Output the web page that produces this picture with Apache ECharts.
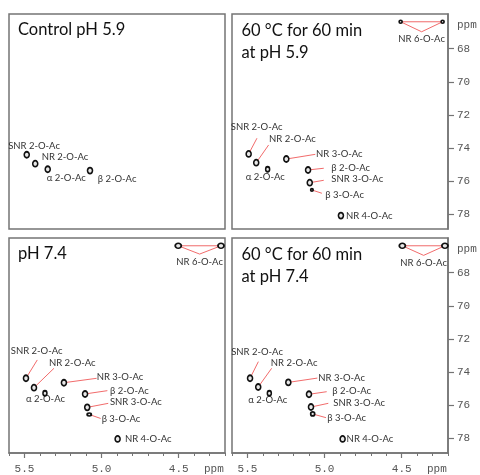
<!DOCTYPE html>
<html><head><meta charset="utf-8">
<script src="https://cdn.jsdelivr.net/npm/echarts@6/dist/echarts.min.js"></script>
<style>html,body{margin:0;padding:0;background:#fff}#c{width:480px;height:475px}</style>
</head><body><div id="c"></div>
<script>
// ---------- data (1H ppm, 13C ppm) ----------
const ctrlNames = ['SNR 2-O-Ac', 'NR 2-O-Ac', 'α 2-O-Ac', 'β 2-O-Ac'];
const ctrl59H = [5.485, 5.430, 5.349, 5.075];
const ctrl59C = [74.41, 74.95, 75.29, 75.37];

const peakNames = ['NR 6-O-Ac', 'NR 6-O-Ac', 'SNR 2-O-Ac', 'NR 2-O-Ac', 'α 2-O-Ac',
                   'NR 3-O-Ac', 'β 2-O-Ac', 'SNR 3-O-Ac', 'β 3-O-Ac', 'NR 4-O-Ac'];
const heat59H = [4.507, 4.235, 5.492, 5.443, 5.369, 5.248, 5.107, 5.096, 5.082, 4.894];
const heat59C = [66.37, 66.37, 74.36, 74.89, 75.29, 74.67, 75.33, 76.10, 76.54, 78.09];

const ph74H = [4.503, 4.226, 5.490, 5.438, 5.367, 5.244, 5.107, 5.093, 5.080, 4.896];
const ph74C = [66.37, 66.37, 74.38, 74.95, 75.29, 74.65, 75.33, 76.14, 76.57, 78.05];

const heat74H = [4.496, 4.220, 5.483, 5.430, 5.358, 5.235, 5.101, 5.088, 5.077, 4.883];
const heat74C = [66.37, 66.37, 74.38, 74.91, 75.29, 74.63, 75.35, 76.12, 76.54, 78.05];

const xTicks = [5.5, 5.0, 4.5];
const yTicks = [68, 70, 72, 74, 76, 78];
const panelTitles = ['Control pH 5.9', '60 °C for 60 min\nat pH 5.9', 'pH 7.4', '60 °C for 60 min\nat pH 7.4'];

// ---------- layout / style (pixel offsets of labels from their peaks) ----------
const layCtrl = {
  'SNR 2-O-Ac': {t: [7.3, -9], a: 'center'},
  'NR 2-O-Ac': {t: [6.4, -7], a: 'left'},
  'α 2-O-Ac': {t: [-1, 9], a: 'left'},
  'β 2-O-Ac': {t: [7.7, 8], a: 'left'}
};
const layHeat59 = {
  'NR 6-O-Ac': {v: 10, tv: 17.5},
  'SNR 2-O-Ac': {t: [8, -26.7], a: 'center', l: [8.3, -15.7]},
  'NR 2-O-Ac': {t: [36.2, -23.4], a: 'center', l: [12.4, -17.7]},
  'α 2-O-Ac': {t: [-2.4, 7.4], a: 'center'},
  'NR 3-O-Ac': {t: [29.7, -5], a: 'left', l: [29, -4.7]},
  'β 2-O-Ac': {t: [23.3, -2.3], a: 'left', l: [15.7, -1.7]},
  'SNR 3-O-Ac': {t: [21.6, -3.4], a: 'left', l: [14, -2.4]},
  'β 3-O-Ac': {t: [13.3, 5], a: 'left', l: [10, 3.3]},
  'NR 4-O-Ac': {t: [5, 0], a: 'left'}
};
const layPh74 = {
  'NR 6-O-Ac': {v: 8.3, tv: 16},
  'SNR 2-O-Ac': {t: [10.7, -27.3], a: 'center', l: [11.3, -18.3]},
  'NR 2-O-Ac': {t: [38.3, -24.4], a: 'center', l: [20, -19.4]},
  'α 2-O-Ac': {t: [0.5, 6], a: 'center'},
  'NR 3-O-Ac': {t: [32.7, -6], a: 'left', l: [32.7, -4.4]},
  'β 2-O-Ac': {t: [25, -3], a: 'left', l: [22.3, -3.3]},
  'SNR 3-O-Ac': {t: [22.7, -5], a: 'left', l: [21, -4]},
  'β 3-O-Ac': {t: [12.4, 4], a: 'left', l: [11.4, 4]},
  'NR 4-O-Ac': {t: [7.3, 0], a: 'left'}
};
const layHeat74 = {
  'NR 6-O-Ac': {v: 9.6, tv: 17},
  'SNR 2-O-Ac': {t: [7, -26.6], a: 'center', l: [8.3, -16.6]},
  'NR 2-O-Ac': {t: [35.9, -23.7], a: 'center', l: [13.4, -18.7]},
  'α 2-O-Ac': {t: [-1.5, 6.4], a: 'center'},
  'NR 3-O-Ac': {t: [30, -4], a: 'left', l: [29, -4.3]},
  'β 2-O-Ac': {t: [23.3, -3.3], a: 'left', l: [17.7, -2.6]},
  'SNR 3-O-Ac': {t: [22.3, -4.3], a: 'left', l: [17.3, -3.7]},
  'β 3-O-Ac': {t: [14.6, 4.3], a: 'left', l: [13.3, 3.7]},
  'NR 4-O-Ac': {t: [4, 0], a: 'left'}
};
const symCtrl = {};
const symHeat59 = {'NR 6-O-Ac': [3, 3], 'β 3-O-Ac': [2.5, 2.5], 'α 2-O-Ac': [4, 5]};
const symPh74 = {'NR 6-O-Ac': [6, 5], 'β 3-O-Ac': [4, 3], 'α 2-O-Ac': [4, 5]};
const symHeat74 = {'NR 6-O-Ac': [6, 5], 'β 3-O-Ac': [4, 4], 'α 2-O-Ac': [4, 5]};

const panels = [
  {title: panelTitles[0], names: ctrlNames, h: ctrl59H, c: ctrl59C, lay: layCtrl, sym: symCtrl, left: 9, top: 14, xs: false, ys: false, tx: 18, ty: 18.5},
  {title: panelTitles[1], names: peakNames, h: heat59H, c: heat59C, lay: layHeat59, sym: symHeat59, left: 232, top: 14, xs: false, ys: true, tx: 241.5, ty: 19},
  {title: panelTitles[2], names: peakNames, h: ph74H, c: ph74C, lay: layPh74, sym: symPh74, left: 9, top: 238, xs: true, ys: false, tx: 18, ty: 242.5},
  {title: panelTitles[3], names: peakNames, h: heat74H, c: heat74C, lay: layHeat74, sym: symHeat74, left: 232, top: 238, xs: true, ys: true, tx: 241.5, ty: 243}
];

const GREY = '#747474';
const RED = '#ef5a5a';
const LABEL_FONT = '9.5px Lato, "Liberation Sans", sans-serif';
const MONO = '"Liberation Mono", "DejaVu Sans Mono", monospace';

const grid = [], xAxis = [], yAxis = [], series = [], graphic = [];
panels.forEach((p, gi) => {
  grid.push({left: p.left, top: p.top, width: 216, height: 215, show: true,
    borderColor: GREY, borderWidth: 1.5, backgroundColor: 'transparent', containLabel: false, outerBoundsMode: 'none'});
  xAxis.push({gridIndex: gi, type: 'value', min: 4.2, max: 5.6, inverse: true, position: 'bottom', show: p.xs,
    axisLine: {show: true, lineStyle: {color: GREY, width: 1.5}},
    axisTick: {show: true, customValues: xTicks, length: 5, lineStyle: {color: GREY, width: 1.2}},
    axisLabel: {show: true, customValues: xTicks, formatter: v => v.toFixed(1), fontFamily: MONO, fontSize: 11, color: '#555', margin: 11},
    splitLine: {show: false}});
  xAxis.push({gridIndex: gi, type: 'value', min: 4.2, max: 5.6, interval: 0.1, inverse: true, position: 'bottom', show: p.xs,
    axisLine: {show: false},
    axisTick: {show: true, length: 3, lineStyle: {color: GREY, width: 1}},
    axisLabel: {show: false}, splitLine: {show: false}});
  yAxis.push({gridIndex: gi, type: 'value', min: 65.9, max: 78.9, inverse: true, position: 'right', show: p.ys,
    axisLine: {show: true, lineStyle: {color: GREY, width: 1.5}},
    axisTick: {show: true, customValues: yTicks, length: 6, lineStyle: {color: GREY, width: 1.2}},
    axisLabel: {show: true, customValues: yTicks, fontFamily: MONO, fontSize: 11, color: '#555', margin: 9},
    splitLine: {show: false}});

  const data = p.h.map((x, i) => [x, p.c[i], i]);
  const nr6First = p.names.indexOf('NR 6-O-Ac');
  series.push({
    type: 'custom', xAxisIndex: gi * 2, yAxisIndex: gi, z: 2, silent: true, clip: false,
    encode: {x: 0, y: 1},
    data: data,
    renderItem: function (params, api) {
      const i = api.value(2);
      const name = p.names[i];
      const lay = p.lay[name];
      const pt = api.coord([api.value(0), api.value(1)]);
      const children = [];
      if (name === 'NR 6-O-Ac') {
        if (i !== nr6First) return {type: 'group', children: []};
        const q = api.coord([p.h[i + 1], p.c[i + 1]]);
        const mx = (pt[0] + q[0]) / 2, my = (pt[1] + q[1]) / 2;
        children.push({type: 'polyline', shape: {points: [pt, [mx, my + lay.v], q, pt]},
          style: {stroke: RED, lineWidth: 0.9, fill: null}});
        children.push({type: 'text', style: {text: name, x: mx, y: my + lay.tv, align: 'center', verticalAlign: 'middle',
          font: LABEL_FONT, fill: '#333'}});
      } else {
        if (lay.l) {
          children.push({type: 'line', shape: {x1: pt[0], y1: pt[1], x2: pt[0] + lay.l[0], y2: pt[1] + lay.l[1]},
            style: {stroke: RED, lineWidth: 0.9}});
        }
        children.push({type: 'text', style: {text: name, x: pt[0] + lay.t[0], y: pt[1] + lay.t[1], align: lay.a, verticalAlign: 'middle',
          font: LABEL_FONT, fill: '#333'}});
      }
      return {type: 'group', children: children};
    }
  });
  series.push({
    type: 'scatter', xAxisIndex: gi * 2, yAxisIndex: gi, z: 3, silent: true,
    data: data.map(d => [d[0], d[1]]),
    symbol: 'circle',
    symbolSize: (v, prm) => p.sym[p.names[prm.dataIndex]] || [5, 6],
    itemStyle: {color: '#e8e8e8', borderColor: '#111', borderWidth: 1.7, opacity: 1}
  });

  graphic.push({type: 'text', left: p.tx, top: p.ty, z: 10, silent: true,
    style: {text: p.title, font: '16.5px Lato, "Liberation Sans", sans-serif', fill: '#111', lineHeight: 22.5}});
  if (p.ys) {
    graphic.push({type: 'text', left: 457, top: p.top + 6, z: 10, silent: true,
      style: {text: 'ppm', font: '11px ' + MONO, fill: '#555'}});
  }
  if (p.xs) {
    graphic.push({type: 'text', left: p.left + 195, top: 464, z: 10, silent: true,
      style: {text: 'ppm', font: '11px ' + MONO, fill: '#555'}});
  }
});

const chart = echarts.init(document.getElementById('c'), null, {renderer: 'canvas'});
chart.setOption({
  animation: false,
  backgroundColor: '#fff',
  grid, xAxis, yAxis, series, graphic
});
</script>
</body></html>
